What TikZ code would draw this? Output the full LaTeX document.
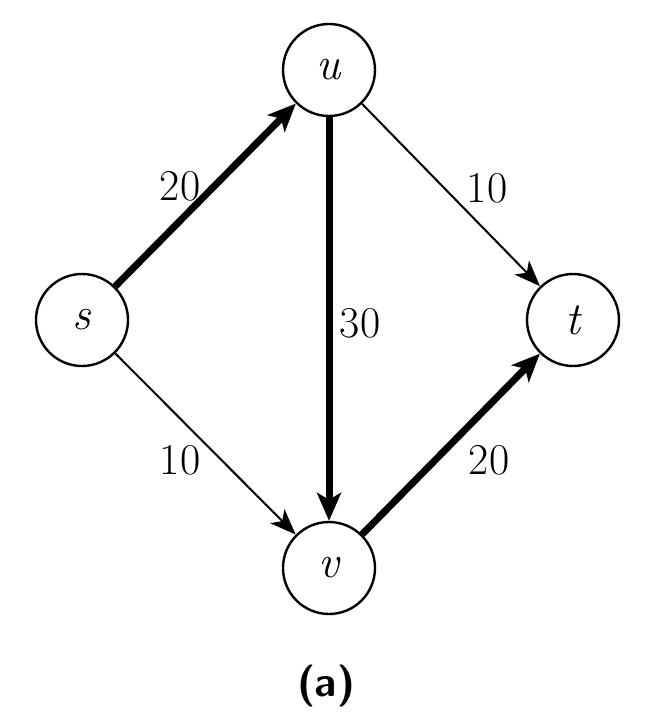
\documentclass[tikz,border=0pt]{standalone}
\usetikzlibrary{arrows.meta}
\begin{document}
\begin{tikzpicture}[x=1pt,y=-1pt,
  vtx/.style={circle,draw,line width=2.4pt,minimum size=92pt,inner sep=0pt,font=\fontsize{46}{52}\selectfont\itshape},
  thin/.style={line width=2pt,-{Stealth[length=26pt,width=20pt,inset=7pt]}},
  thick/.style={line width=7pt,-{Stealth[length=28pt,width=24pt,inset=7pt]}},
  lbl/.style={font=\fontsize{44}{50}\selectfont}]
\useasboundingbox (0,0) rectangle (662,722);
\node[vtx] (s) at (82,320) {s};
\node[vtx] (u) at (329,70) {u};
\node[vtx] (t) at (573,320) {t};
\node[vtx] (v) at (329,568) {v};
\draw[thick] (s) -- (u);
\draw[thin] (s) -- (v);
\draw[thick] (u) -- (v);
\draw[thin] (u) -- (t);
\draw[thick] (v) -- (t);
\node[lbl] (l1) at (180,186) {20};
\node[lbl] (l2) at (487,188) {10};
\node[lbl] (l3) at (360,323) {30};
\node[lbl] (l4) at (180,460) {10};
\node[lbl] (l5) at (489,460) {20};
\node[font=\fontsize{42}{48}\selectfont\bfseries\sffamily] (cap) at (326,686) {(a)};
\end{tikzpicture}
\end{document}
